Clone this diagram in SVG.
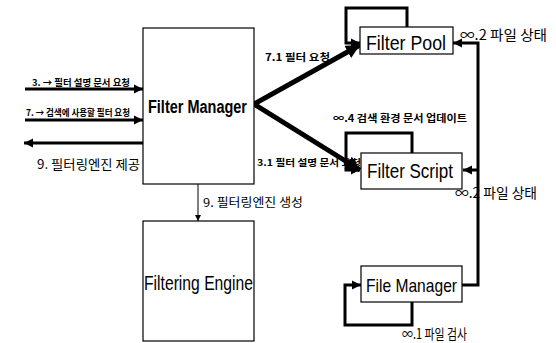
<svg xmlns="http://www.w3.org/2000/svg" width="556" height="343" viewBox="0 0 556 343">
<style>
.box{fill:#fff;stroke:#000;stroke-width:1.2}
.t{font-family:"Liberation Sans","Noto Sans CJK KR",sans-serif;fill:#000}
.k{font-family:"Noto Sans CJK KR","Liberation Sans",sans-serif;fill:#000}
.c{fill:none;stroke:#000;stroke-linejoin:miter}
</style>
<defs>
<marker id="ab" markerUnits="userSpaceOnUse" markerWidth="16" markerHeight="14" refX="14" refY="7" orient="auto"><path d="M0,0 L14,7 L0,14 Z" fill="#000"/></marker>
<marker id="am" markerUnits="userSpaceOnUse" markerWidth="10" markerHeight="10" refX="9" refY="5" orient="auto"><path d="M0,0.5 L9,5 L0,9.5 Z" fill="#000"/></marker>
<marker id="as" markerUnits="userSpaceOnUse" markerWidth="8" markerHeight="8" refX="6" refY="3" orient="auto"><path d="M0,0 L6,3 L0,6 Z" fill="#000"/></marker>
</defs>
<rect width="556" height="343" fill="#fff"/>
<g id="connectors">
<path class="c" d="M254,104 L360,45" stroke-width="5" marker-end="url(#ab)"/>
<path class="c" d="M254,104 L360,170" stroke-width="5" marker-end="url(#ab)"/>
<path class="c" d="M407,27 V8 H346 V43 H360" stroke-width="3" marker-end="url(#am)"/>
<path class="c" d="M412,153 V133 H346 V170 H360" stroke-width="3" marker-end="url(#am)"/>
<path class="c" d="M462,285 H478 V43 H453" stroke-width="3" marker-end="url(#am)"/>
<path class="c" d="M478,170 H463" stroke-width="3" marker-end="url(#am)"/>
<path class="c" d="M412,302 V325 H345 V285 H361" stroke-width="3" marker-end="url(#am)"/>
<path class="c" d="M25,89 H143" stroke-width="3" marker-end="url(#am)"/>
<path class="c" d="M25,120 H143" stroke-width="3" marker-end="url(#am)"/>
<path class="c" d="M143,143 H24" stroke-width="3" marker-end="url(#am)"/>
<path class="c" d="M198,184 V221" stroke-width="1" marker-end="url(#as)"/>
</g>
<g id="filter-manager">
<rect class="box" x="143" y="28" width="111" height="156"/>
<text class="t" x="148" y="113" font-size="18" font-weight="bold" textLength="99" lengthAdjust="spacingAndGlyphs">Filter Manager</text>
</g>
<g id="filtering-engine">
<rect class="box" x="143" y="221" width="111" height="120"/>
<text class="t" x="144" y="290" font-size="20" textLength="109" lengthAdjust="spacingAndGlyphs">Filtering Engine</text>
</g>
<g id="filter-pool">
<rect class="box" x="360" y="27" width="93" height="27"/>
<text class="t" x="366" y="50" font-size="20" textLength="80" lengthAdjust="spacingAndGlyphs">Filter Pool</text>
</g>
<g id="filter-script">
<rect class="box" x="361" y="153" width="101" height="36"/>
<text class="t" x="367" y="178" font-size="20" textLength="86" lengthAdjust="spacingAndGlyphs">Filter Script</text>
</g>
<g id="file-manager">
<rect class="box" x="361" y="266" width="101" height="36"/>
<text class="t" x="366" y="292" font-size="19" textLength="91" lengthAdjust="spacingAndGlyphs">File Manager</text>
</g>
<g id="labels">
<text class="k" x="32" y="86" font-size="9" font-weight="bold" textLength="98" lengthAdjust="spacingAndGlyphs">3. → 필터 설명 문서 요청</text>
<text class="k" x="26" y="116" font-size="9" font-weight="bold" textLength="104" lengthAdjust="spacingAndGlyphs">7. → 검색에 사용할 필터 요청</text>
<text class="k" x="37" y="169" font-size="13" textLength="103" lengthAdjust="spacingAndGlyphs">9. 필터링엔진 제공</text>
<text class="k" x="265" y="61" font-size="10" font-weight="bold" textLength="65" lengthAdjust="spacingAndGlyphs">7.1 필터 요청</text>
<text class="k" x="257" y="166" font-size="9" font-weight="bold" textLength="104" lengthAdjust="spacingAndGlyphs">3.1 필터 설명 문서 요청</text>
<text class="k" x="333" y="122" font-size="10" font-weight="bold" textLength="134" lengthAdjust="spacingAndGlyphs">∞.4 검색 환경 문서 업데이트</text>
<text class="k" x="460" y="40" font-size="14" textLength="87" lengthAdjust="spacingAndGlyphs">∞.2 파일 상태</text>
<text class="k" x="455" y="198" font-size="14" textLength="82" lengthAdjust="spacingAndGlyphs">∞.2 파일 상태</text>
<text class="k" x="402" y="339" font-size="14" textLength="65" lengthAdjust="spacingAndGlyphs">∞.1 파일 검사</text>
<text class="k" x="203" y="207" font-size="12" textLength="100" lengthAdjust="spacingAndGlyphs">9. 필터링엔진 생성</text>
</g>
</svg>
